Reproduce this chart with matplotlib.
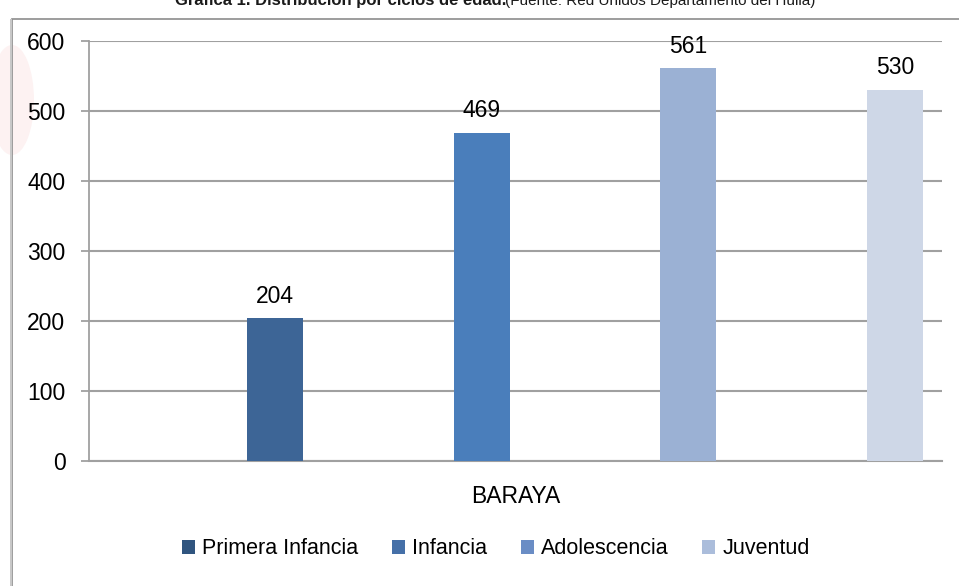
import numpy as np
from matplotlib import pyplot as plt
from matplotlib.patches import Rectangle, Patch, Ellipse

# Data
category = 'BARAYA'
series = ['Primera Infancia', 'Infancia', 'Adolescencia', 'Juventud']
values = [204, 469, 561, 530]
bar_colors = ['#3D6596', '#4A7EBB', '#9BB1D4', '#CED7E7']
legend_colors = ['#30557F', '#4570A8', '#6A8DC5', '#ABBDDB']
yticks = [0, 100, 200, 300, 400, 500, 600]

plt.rcParams['font.family'] = ['Liberation Sans', 'DejaVu Sans']

W, H = 959, 586
fig = plt.figure(figsize=(W / 100, H / 100), dpi=100)

# faint watermark behind the chart (left edge)
fig.patches.append(Ellipse((12 / W, 1 - 100 / H), 44 / W, 110 / H, transform=fig.transFigure,
                           facecolor='#FDF2F2', edgecolor='none', zorder=0))

# outer chart frame (left shadow + gray border)
fig.patches.append(Rectangle((12 / W, -0.01), 1.0, 1 - 19 / H + 0.01, transform=fig.transFigure,
                             facecolor='none', edgecolor='#8C8C8C', lw=1.2, zorder=0.5))
fig.patches.append(Rectangle((10 / W, -0.01), 2 / W, 1 - 19 / H + 0.01, transform=fig.transFigure,
                             facecolor='#C8C8C8', edgecolor='none', zorder=0.5))

# plot area in pixels: x 89..942, y 41..461
ax = fig.add_axes([89 / W, 1 - 461 / H, (942 - 89) / W, (461 - 41) / H])
ax.set_facecolor('none')
ax.set_zorder(2)

step = 206.7  # pixels between bar centres
span = (942 - 89) / step
first = (275 - 89) / step
xs = first + np.arange(len(values))
width = 56 / step

for i, (v, c) in enumerate(zip(values, bar_colors)):
    ax.bar(xs[i], v, width=width, color=c, zorder=3)
    ax.text(xs[i], v + 15, str(v), ha='center', va='bottom', fontsize=16.5, color='#000000', zorder=4)

ax.set_xlim(0, span)
ax.set_ylim(0, 600)
ax.set_yticks(yticks)
ax.set_yticklabels([str(t) for t in yticks], fontsize=16.5)
ax.yaxis.grid(True, color='#A0A0A0', lw=1.5, zorder=0)
ax.set_axisbelow(True)
ax.tick_params(axis='y', length=6, width=1.3, color='#A0A0A0', pad=11)
ax.set_xticks([span / 2])
ax.set_xticklabels([category], fontsize=16.5)
ax.tick_params(axis='x', length=0, pad=17)
for s in ['top', 'right']:
    ax.spines[s].set_visible(False)
ax.spines['left'].set_color('#A0A0A0')
ax.spines['left'].set_linewidth(1.3)
ax.spines['bottom'].set_color('#A0A0A0')
ax.spines['bottom'].set_linewidth(1.5)

handles = [Patch(facecolor=c, edgecolor='none') for c in legend_colors]
leg = fig.legend(handles, series, loc='center', bbox_to_anchor=(496 / W, 1 - 549 / H), ncol=4,
                 frameon=False, prop={'size': 15.5}, handlelength=0.6, handleheight=0.6,
                 handletextpad=0.35, columnspacing=1.55)
leg.set_zorder(3)

# title, cut off at the top edge
fig.text(175 / W, 1 - 1 / H, 'Gráfica 1. Distribución por ciclos de edad.', ha='left', va='center',
         fontsize=12, fontweight='bold', color='#1A1A1A', zorder=3)
fig.text(505 / W, 1 - 1 / H, '(Fuente: Red Unidos Departamento del Huila)', ha='left', va='center',
         fontsize=11, color='#1A1A1A', zorder=3)

fig.savefig('out.png', dpi=100)
